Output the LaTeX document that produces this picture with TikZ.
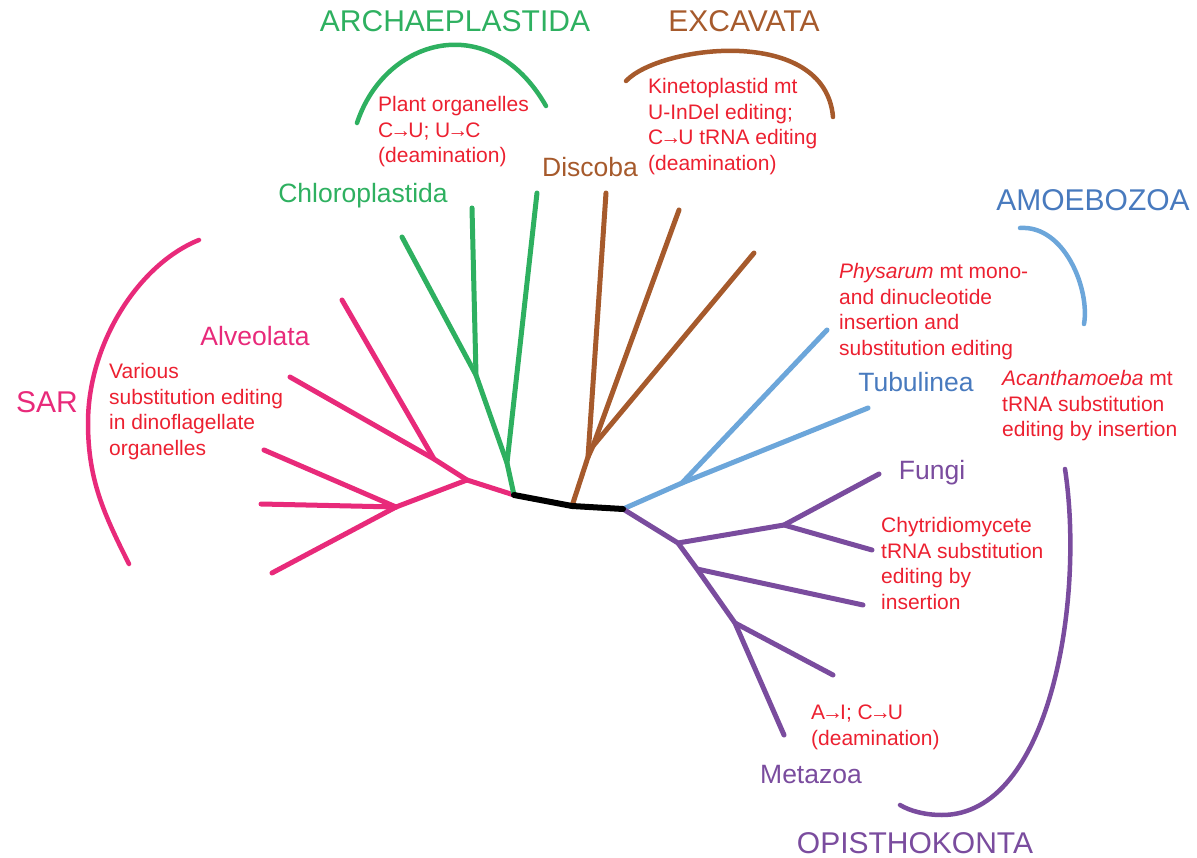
\documentclass[tikz,border=0pt]{standalone}
\usepackage{fontspec}
\setmainfont{Liberation Sans}
\usepackage{xcolor}
\definecolor{plantgreen}{RGB}{46,176,96}
\definecolor{excbrown}{RGB}{166,90,44}
\definecolor{sarpink}{RGB}{232,42,122}
\definecolor{amoblue}{RGB}{108,166,218}
\definecolor{amotext}{RGB}{72,122,190}
\definecolor{opipurple}{RGB}{122,76,158}
\definecolor{notered}{RGB}{236,32,48}
\newcommand{\rarr}{\kern-3pt→\kern-3pt}
\usepackage{tikz}
\usetikzlibrary{positioning}

\begin{document}
\begin{tikzpicture}[x=1pt,y=-1pt,line cap=round,line join=round]
  \tikzstyle{twig}=[line width=5pt]
  \tikzstyle{bow}=[line width=4.5pt]
  \tikzstyle{grp}=[font=\fontsize{30}{34}\selectfont,anchor=base,inner sep=0pt]
  \tikzstyle{clade}=[font=\fontsize{26.5}{30}\selectfont,anchor=base,inner sep=0pt]
  \tikzstyle{note}=[font=\fontsize{21}{25.7}\selectfont,text=notered,anchor=north west,align=left,inner sep=0pt]
  \useasboundingbox (0,0) rectangle (1197,858);

  % backbone points
  \coordinate (rootA) at (514,495);
  \coordinate (rootE) at (572,506);
  \coordinate (rootO) at (623,509);

  % SAR
  \coordinate (sarB) at (467,480);
  \coordinate (sarA) at (434,459);
  \coordinate (sarC) at (396,507);
  \coordinate (sar1) at (342,300);
  \coordinate (sar2) at (290,377);
  \coordinate (sar3) at (264,450);
  \coordinate (sar4) at (261,504);
  \coordinate (sar5) at (272,573);
  \draw[twig,sarpink] (rootA) -- (sarB) -- (sarA) -- (sar2);
  \draw[twig,sarpink] (sarA) -- (sar1);
  \draw[twig,sarpink] (sarB) -- (sarC);
  \foreach \t in {sar3,sar4,sar5}
    \draw[twig,sarpink] (sarC) -- (\t);

  % Archaeplastida
  \coordinate (grn1) at (507,463);
  \coordinate (grn2) at (476,375);
  \draw[twig,plantgreen] (rootA) -- (grn1) -- (537,193);
  \draw[twig,plantgreen] (grn1) -- (grn2) -- (472,208);
  \draw[twig,plantgreen] (grn2) -- (402,237);

  % Excavata
  \coordinate (exc1) at (588,457);
  \coordinate (exc2) at (593,446);
  \draw[twig,excbrown] (rootE) -- (exc1) -- (606,193);
  \draw[twig,excbrown] (exc1) -- (exc2) -- (679,210);
  \draw[twig,excbrown] (exc2) -- (754,253);

  % Amoebozoa
  \coordinate (amo1) at (682,483);
  \draw[twig,amoblue] (rootO) -- (amo1) -- (827,330);
  \draw[twig,amoblue] (amo1) -- (868,408);

  % Opisthokonta
  \coordinate (opi1) at (678,543);
  \coordinate (opi2) at (784,525);
  \coordinate (opi3) at (697,569);
  \coordinate (opi4) at (735,623);
  \draw[twig,opipurple] (rootO) -- (opi1) -- (opi2) -- (879,474);
  \draw[twig,opipurple] (opi2) -- (872,550);
  \draw[twig,opipurple] (opi1) -- (opi3) -- (opi4) -- (784,735);
  \draw[twig,opipurple] (opi3) -- (863,605);
  \draw[twig,opipurple] (opi4) -- (833,675);

  \draw[line width=6pt,black] (rootA) -- (rootE) -- (rootO);

  % brackets
  \draw[bow,sarpink] (199,240) .. controls (139,264) and (88,343) .. (88,423)
    .. controls (88,480) and (104,514) .. (129,564);
  \draw[bow,plantgreen] (357,123) .. controls (385,38) and (490,8) .. (546,106);
  \draw[bow,excbrown] (626,81) .. controls (660,45) and (825,25) .. (833,117);
  \draw[bow,amoblue] (1020,228) .. controls (1065,225) and (1090,290) .. (1084,324);
  \draw[bow,opipurple] (1065,469) .. controls (1085,600) and (1050,815) .. (942,815)
    .. controls (925,815) and (910,811) .. (900,805);

  % group names
  \node[grp,text=sarpink] (sar) at (47,413) {SAR};
  \node[grp,text=plantgreen] (archae) at (455,32) {ARCHAEPLASTIDA};
  \node[grp,text=excbrown] (excav) at (744,32) {EXCAVATA};
  \node[grp,text=amotext] (amoeb) at (1093,211) {AMOEBOZOA};
  \node[grp,text=opipurple] (opist) at (915,853) {OPISTHOKONTA};

  % clade names
  \node[clade,text=plantgreen] (chloro) at (363,203) {Chloroplastida};
  \node[clade,text=excbrown] (discoba) at (590,177) {Discoba};
  \node[clade,text=sarpink] (alveo) at (255,346) {Alveolata};
  \node[clade,text=amotext] (tubul) at (916,392) {Tubulinea};
  \node[clade,text=opipurple] (fungi) at (932,479) {Fungi};
  \node[clade,text=opipurple] (metaz) at (811,783) {Metazoa};

  % editing notes
  \node[note] (plantnote) at (378,96) {Plant organelles\\C\rarr U; U\rarr C\\(deamination)};
  \node[note] (kinenote) at (648,78) {Kinetoplastid mt\\U-InDel editing;\\C\rarr U tRNA editing\\(deamination)};
  \node[note] (physnote) at (839,263) {\textit{Physarum} mt mono-\\and dinucleotide\\insertion and\\substitution editing};
  \node[note] (acannote) at (1002,370) {\textit{Acanthamoeba} mt\\tRNA substitution\\editing by insertion};
  \node[note] (dinonote) at (109,363) {Various\\substitution editing\\in dinoflagellate\\organelles};
  \node[note] (chytnote) at (881,517) {Chytridiomycete\\tRNA substitution\\editing by\\insertion};
  \node[note] (metanote) at (811,705) {A\rarr I; C\rarr U\\(deamination)};
\end{tikzpicture}
\end{document}
